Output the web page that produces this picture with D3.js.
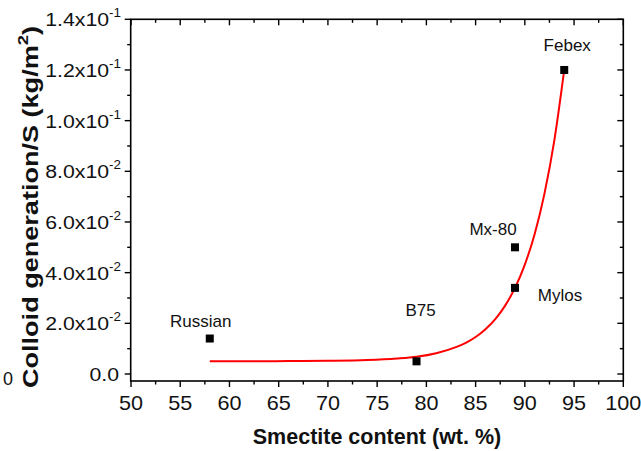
<!DOCTYPE html>
<html><head><meta charset="utf-8">
<script src="https://cdn.jsdelivr.net/npm/d3@7"></script>
<style>
html,body{margin:0;padding:0;background:#fff;}
svg{display:block;font-family:"Liberation Sans",Arial,sans-serif;}
</style></head>
<body><svg id="c" width="641" height="451"></svg>
<script>
// ---- data ----
const sampleNames = ["Russian", "B75", "Mx-80", "Mylos", "Febex"];
const smectite = [58, 79, 89, 89, 94];
const colloid = [0.014, 0.005, 0.050, 0.034, 0.120];

const fitX = [58, 62, 66, 70, 74, 77, 79, 81, 83, 84, 85, 86, 87, 88, 89, 90, 91, 92, 93, 94];
const fitY = [0.0050, 0.0050, 0.0051, 0.0052, 0.0055, 0.0061, 0.0068, 0.0082, 0.0106, 0.0123,
              0.0146, 0.0177, 0.0217, 0.0270, 0.0340, 0.0432, 0.0553, 0.0713, 0.0923, 0.1200];

const xTicks = [50, 55, 60, 65, 70, 75, 80, 85, 90, 95, 100];
const yTicks = [0, 0.02, 0.04, 0.06, 0.08, 0.10, 0.12, 0.14];
const yTickMantissa = ["0.0", "2.0", "4.0", "6.0", "8.0", "1.0", "1.2", "1.4"];
const yTickExp = ["", "-2", "-2", "-2", "-2", "-1", "-1", "-1"];

const xTitle = "Smectite content (wt. %)";
const yTitleMain = "Colloid generation/S (kg/m";
const yTitleSup = "2";
const yTitleEnd = ")";

// label offsets (px) relative to each point: [dx, dy]
const labelOffsets = [[-9, -12], [4, -45], [-22, -12], [45, 13], [3, -19]];

// ---- layout ----
const svg = d3.select("#c");
const L = 130.7, R = 623.3, T = 19.3, B = 381;
const x = d3.scaleLinear().domain([50, 100]).range([L + 0.3, R]);
const y = d3.scaleLinear().domain([0, 0.14]).range([374, T]);

// frame
const g = svg.append("g");
g.append("rect").attr("x", L).attr("y", T).attr("width", R - L).attr("height", B - T)
  .attr("fill", "none").attr("stroke", "#000").attr("stroke-width", 1.6);

const xMinor = d3.range(52.5, 100, 5);
const yMinor = d3.range(0.01, 0.14, 0.02);

function ticksX(vals, y0, len) {
  g.selectAll(null).data(vals).enter().append("line")
    .attr("x1", d => x(d)).attr("x2", d => x(d))
    .attr("y1", y0).attr("y2", y0 + len)
    .attr("stroke", "#000").attr("stroke-width", 1.4);
}
function ticksY(vals, x0, len) {
  g.selectAll(null).data(vals).enter().append("line")
    .attr("y1", d => y(d)).attr("y2", d => y(d))
    .attr("x1", x0).attr("x2", x0 + len)
    .attr("stroke", "#000").attr("stroke-width", 1.4);
}
// bottom: outward
ticksX(xTicks, B, 6); ticksX(xMinor, B, 3.5);
// top: inward
ticksX(xTicks, T, 6); ticksX(xMinor, T, 3.5);
// left: outward
ticksY(yTicks, L, -6); ticksY(yMinor, L, -3.5);
// right: inward
ticksY(yTicks, R, -6); ticksY(yMinor, R, -3.5);

// x tick labels
g.selectAll(null).data(xTicks).enter().append("text")
  .attr("transform", d => `translate(${x(d)},410) scale(1.08,1)`)
  .attr("text-anchor", "middle").attr("font-size", 20).attr("fill", "#111")
  .text(d => d);

// y tick labels
yTicks.forEach((v, i) => {
  const t = g.append("text")
    .attr("transform", `translate(${i === 0 ? 119 : 121},${y(v) + 7}) scale(1.12,1)`)
    .attr("text-anchor", "end").attr("font-size", 19).attr("fill", "#111");
  if (yTickExp[i]) {
    t.append("tspan").text(yTickMantissa[i] + "x10");
    t.append("tspan").attr("font-size", 12).attr("dy", -9).text(yTickExp[i]);
  } else {
    t.text(yTickMantissa[i]);
  }
});

// stray label at left
g.append("text").attr("x", 3).attr("y", 385).attr("font-size", 18).attr("fill", "#111").text("0");

// axis titles
g.append("text").attr("x", 377).attr("y", 444).attr("text-anchor", "middle")
  .attr("font-size", 21.5).attr("font-weight", "bold").attr("fill", "#111").text(xTitle);

const yt = g.append("text")
  .attr("transform", "translate(38,207) rotate(-90) scale(1.23,1)")
  .attr("text-anchor", "middle").attr("font-size", 22).attr("font-weight", "bold").attr("fill", "#111");
yt.append("tspan").text(yTitleMain);
yt.append("tspan").attr("font-size", 15).attr("dy", -10).text(yTitleSup);
yt.append("tspan").attr("dy", 10).text(yTitleEnd);

// fit curve
const fitData = fitX.map((d, i) => [d, fitY[i]]);
g.append("path").datum(fitData)
  .attr("d", d3.line().x(d => x(d[0])).y(d => y(d[1])).curve(d3.curveMonotoneX))
  .attr("fill", "none").attr("stroke", "#ff0000").attr("stroke-width", 2);

// points
const pts = sampleNames.map((n, i) => ({n, sx: smectite[i], cy: colloid[i], off: labelOffsets[i]}));
g.selectAll(null).data(pts).enter().append("rect")
  .attr("x", d => x(d.sx) - 4).attr("y", d => y(d.cy) - 4)
  .attr("width", 8).attr("height", 8).attr("fill", "#000");

g.selectAll(null).data(pts).enter().append("text")
  .attr("x", d => x(d.sx) + d.off[0]).attr("y", d => y(d.cy) + d.off[1])
  .attr("text-anchor", "middle").attr("font-size", 17).attr("fill", "#111")
  .text(d => d.n);
</script></body></html>
